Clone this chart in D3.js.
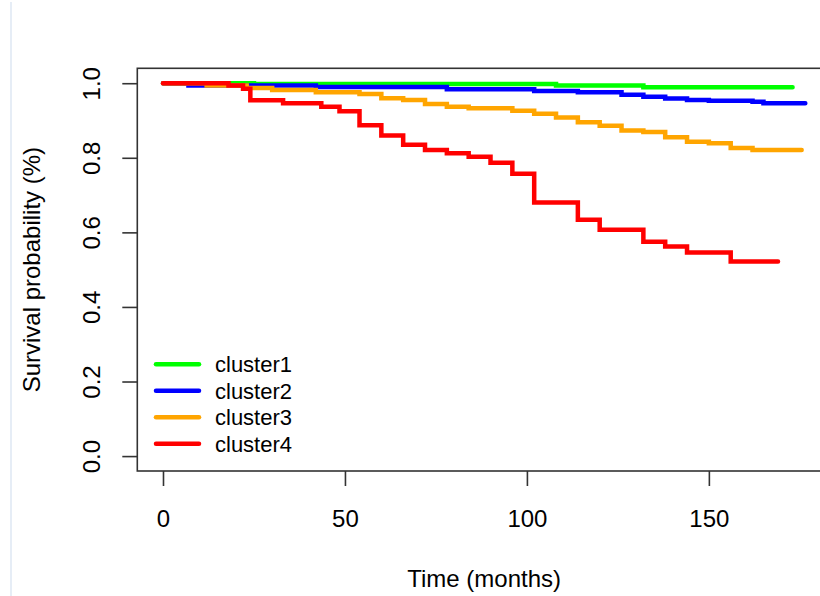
<!DOCTYPE html>
<html>
<head>
<meta charset="utf-8">
<script src="https://cdn.jsdelivr.net/npm/d3@7"></script>
<style>
  body { margin: 0; background: #fff; }
  text { font-family: "Liberation Sans", Arial, sans-serif; fill: #000; }
</style>
</head>
<body>
<div id="chart_div"></div>
<script>
// Kaplan-Meier steps (time in months, survival)
var clusters = ["cluster1", "cluster2", "cluster3", "cluster4"];
var colors = ["#00ff00", "#0000ff", "#ffa500", "#ff0000"];

var time1 = [0, 25, 108, 132, 173];
var surv1 = [1.0, 0.998, 0.994, 0.989, 0.989];

var time2 = [0, 7, 42, 78, 102, 114, 126, 132, 138, 144, 150, 162, 165, 176.5];
var surv2 = [1.0, 0.994, 0.990, 0.984, 0.979, 0.976, 0.969, 0.964, 0.959, 0.955, 0.953, 0.950, 0.946, 0.946];

var time3 = [0, 12, 23, 30, 42, 54, 60, 66, 72, 78, 84, 96, 102, 108, 114, 120, 126, 132, 138, 144, 150, 156, 162, 175.5];
var surv3 = [1.0, 0.994, 0.987, 0.982, 0.976, 0.971, 0.960, 0.955, 0.944, 0.937, 0.933, 0.926, 0.918, 0.908, 0.895, 0.886, 0.873, 0.869, 0.855, 0.843, 0.839, 0.826, 0.821, 0.821];

var time4 = [0, 18, 22, 24, 33, 43.5, 48.5, 54, 60, 66, 72, 78, 84, 90, 96, 102, 114, 120, 132, 138, 144, 156, 169];
var surv4 = [1.0, 0.994, 0.985, 0.954, 0.946, 0.937, 0.925, 0.887, 0.860, 0.835, 0.821, 0.812, 0.803, 0.787, 0.757, 0.680, 0.634, 0.607, 0.575, 0.562, 0.546, 0.522, 0.522];

var xTicks = [0, 50, 100, 150];
var yTicks = [0, 0.2, 0.4, 0.6, 0.8, 1.0];

var times = [time1, time2, time3, time4];
var survs = [surv1, surv2, surv3, surv4];

var series = clusters.map(function(name, i) {
    return {
        name: name,
        color: colors[i],
        values: times[i].map(function(t, j) { return {t: t, s: survs[i][j]}; })
    };
});

var margin = {top: 68.3, right: 0, bottom: 125, left: 137.3},
    width = 831 - margin.left,
    height = 596 - margin.top - margin.bottom;

// R style axis range: data range extended by 4% each side
var xmax = d3.max(times, function(t) { return d3.max(t); });
var x = d3.scaleLinear()
      .domain([-0.04 * xmax, xmax * 1.04])
      .range([0, width]);
var y = d3.scaleLinear()
      .domain([-0.04, 1.04])
      .range([height, 0]);

var svg0 = d3.select("#chart_div").append("svg")
    .attr("width", 820)
    .attr("height", 596);

// faint page edge on the left
svg0.append("rect")
    .attr("x", 10).attr("y", 2)
    .attr("width", 2).attr("height", 594)
    .attr("fill", "#e6edf6");

var svg = svg0.append("g")
    .attr("transform", "translate(" + margin.left + "," + margin.top + ")");

var line = d3.line()
    .curve(d3.curveStepAfter)
    .x(function(d) { return x(d.t); })
    .y(function(d) { return y(d.s); });

svg.selectAll(".km")
    .data(series)
    .enter().append("path")
    .attr("class", "km")
    .attr("d", function(d) { return line(d.values); })
    .attr("fill", "none")
    .attr("stroke", function(d) { return d.color; })
    .attr("stroke-width", 4.5)
    .attr("stroke-linecap", "round");

// box
svg.append("rect")
    .attr("width", width)
    .attr("height", height)
    .attr("fill", "none")
    .attr("stroke", "#333")
    .attr("stroke-width", 1.6);

// x axis
var gx = svg.append("g")
    .attr("transform", "translate(0," + height + ")")
    .call(d3.axisBottom(x).tickValues(xTicks).tickSize(15).tickFormat(d3.format("d")));
gx.select(".domain").remove();
gx.selectAll("line").attr("stroke", "#333").attr("stroke-width", 1.6);
gx.selectAll("text")
    .attr("y", 55.7).attr("dy", 0)
    .style("font-size", "24px")
    .attr("fill", "#000");

// y axis, labels turned like R's default
var gy = svg.append("g")
    .call(d3.axisLeft(y).tickValues(yTicks).tickSize(15).tickFormat(d3.format(".1f")));
gy.select(".domain").remove();
gy.selectAll("line").attr("stroke", "#333").attr("stroke-width", 1.6);
gy.selectAll("text")
    .attr("x", 0).attr("dy", 0)
    .attr("text-anchor", "middle")
    .attr("transform", "translate(-37.3,0) rotate(-90)")
    .style("font-size", "24px")
    .attr("fill", "#000");

// axis titles
svg.append("text")
    .attr("x", width / 2)
    .attr("y", 586.7 - margin.top)
    .attr("text-anchor", "middle")
    .style("font-size", "24px")
    .text("Time (months)");

svg.append("text")
    .attr("transform", "translate(" + (40 - margin.left) + "," + (height / 2) + ") rotate(-90)")
    .attr("text-anchor", "middle")
    .style("font-size", "24px")
    .text("Survival probability (%)");

// legend
var legend = svg.append("g")
    .attr("transform", "translate(" + (156 - margin.left) + "," + (364.3 - margin.top) + ")");
var item = legend.selectAll(".item")
    .data(series)
    .enter().append("g")
    .attr("class", "item")
    .attr("transform", function(d, i) { return "translate(0," + (i * 26.5) + ")"; });
item.append("line")
    .attr("x1", 0).attr("x2", 43)
    .attr("stroke", function(d) { return d.color; })
    .attr("stroke-width", 4.5)
    .attr("stroke-linecap", "round");
item.append("text")
    .attr("x", 59)
    .attr("dy", "0.36em")
    .style("font-size", "22px")
    .text(function(d) { return d.name; });
</script>
</body>
</html>
